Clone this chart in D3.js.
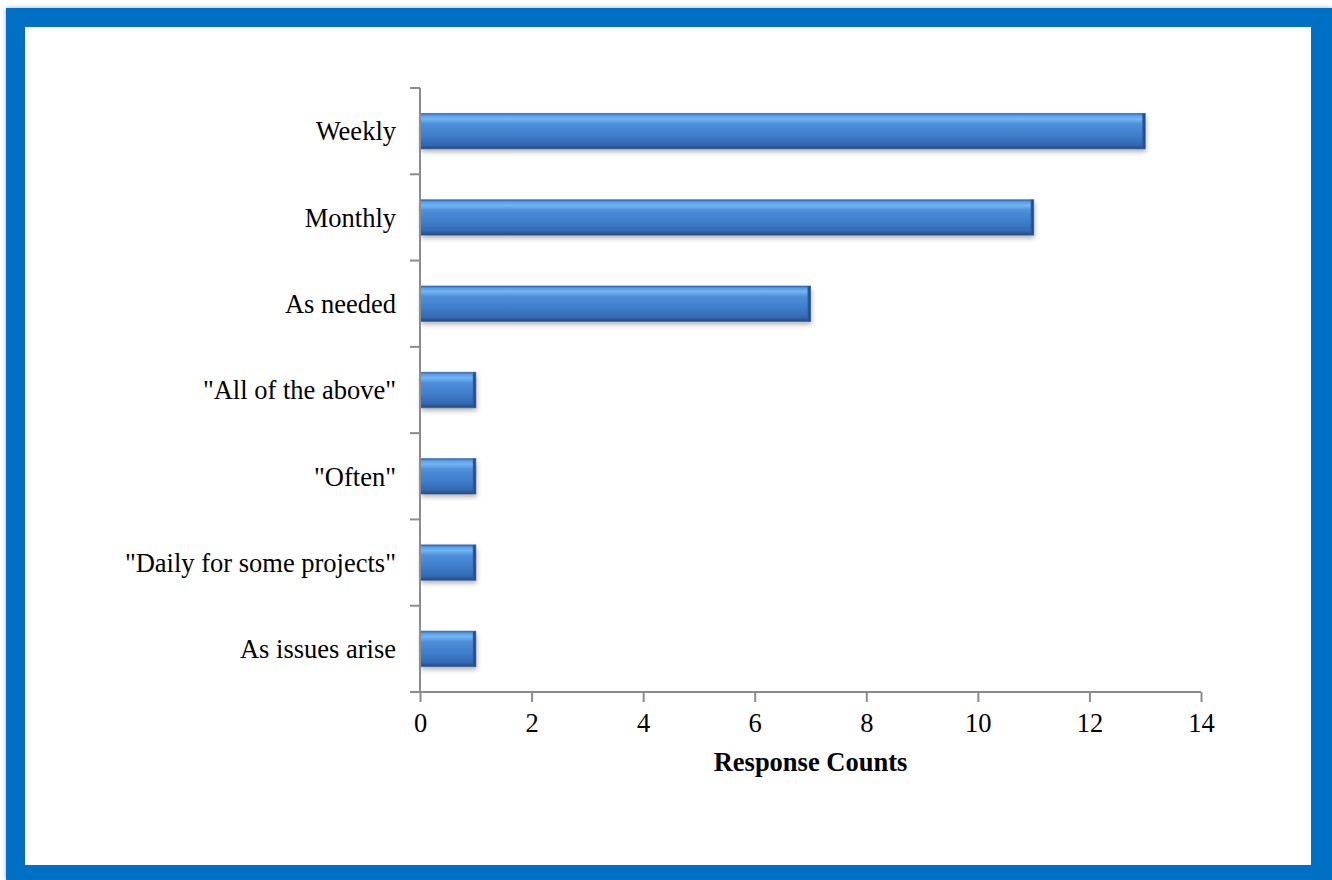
<!DOCTYPE html>
<html>
<head>
<meta charset="utf-8">
<script src="https://cdn.jsdelivr.net/npm/d3@7"></script>
<style>
  html, body { margin: 0; padding: 0; background: #ffffff; }
  svg { display: block; }
</style>
</head>
<body>
<svg id="chart" width="1332" height="880"></svg>
<script>
// Survey responses: how often feedback is given
const categories = ["Weekly", "Monthly", "As needed", "\"All of the above\"", "\"Often\"", "\"Daily for some projects\"", "As issues arise"];
const counts = [13, 11, 7, 1, 1, 1, 1];
const xTicks = [0, 2, 4, 6, 8, 10, 12, 14];
const xTitle = "Response Counts";

const svg = d3.select("#chart");
const font = "'Liberation Serif', 'Times New Roman', serif";
const fontSize = 26.5;

// Frame: blue border with soft shadow
const defs = svg.append("defs");
const shadow = defs.append("filter").attr("id", "frameShadow")
  .attr("x", "-5%").attr("y", "-5%").attr("width", "110%").attr("height", "110%");
shadow.append("feDropShadow").attr("dx", 0).attr("dy", 0).attr("stdDeviation", 2)
  .attr("flood-color", "#000").attr("flood-opacity", 0.35);

svg.append("rect").attr("x", 6).attr("y", 8).attr("width", 1326).attr("height", 872)
  .attr("fill", "#0570c4").attr("filter", "url(#frameShadow)");
svg.append("rect").attr("x", 25).attr("y", 27).attr("width", 1286).attr("height", 838)
  .attr("fill", "#ffffff");

// Bar fill gradients
const grad = defs.append("linearGradient").attr("id", "barFill")
  .attr("x1", 0).attr("y1", 0).attr("x2", 0).attr("y2", 1);
[[0, "#2f66b0"], [0.06, "#5a9ee6"], [0.16, "#72b6f4"], [0.3, "#4d8ed9"], [0.6, "#3f7fcc"], [0.88, "#3469b3"], [1, "#22497f"]]
  .forEach(([o, c]) => grad.append("stop").attr("offset", o).attr("stop-color", c));

const edge = defs.append("linearGradient").attr("id", "barEdge")
  .attr("x1", 0).attr("y1", 0).attr("x2", 1).attr("y2", 0);
[[0, "#2c5fa5"], [1, "#1a4587"]]
  .forEach(([o, c]) => edge.append("stop").attr("offset", o).attr("stop-color", c));

const barShadow = defs.append("filter").attr("id", "barShadow")
  .attr("x", "-10%").attr("y", "-20%").attr("width", "120%").attr("height", "160%");
barShadow.append("feDropShadow").attr("dx", 1).attr("dy", 3).attr("stdDeviation", 2.5)
  .attr("flood-color", "#000").attr("flood-opacity", 0.3);

// Plot area
const plot = { left: 420, right: 1201, top: 88, bottom: 692 };

const x = d3.scaleLinear().domain([0, 14]).range([plot.left, plot.right]);
const y = d3.scaleBand().domain(categories).range([plot.top, plot.bottom])
  .paddingInner(0.59).paddingOuter(0.295);
const yb = d3.scaleBand().domain(categories).range([plot.top, plot.bottom]);

const axisColor = "#8c8c8c";

// Bars
const bars = svg.append("g").selectAll("g.bar").data(categories).join("g").attr("class", "bar");
bars.append("rect")
  .attr("x", x(0))
  .attr("y", d => y(d))
  .attr("width", (d, i) => x(counts[i]) - x(0))
  .attr("height", y.bandwidth())
  .attr("fill", "url(#barFill)")
  .attr("filter", "url(#barShadow)");
// darker end cap
bars.append("rect")
  .attr("x", (d, i) => x(counts[i]) - 3)
  .attr("y", d => y(d))
  .attr("width", 3)
  .attr("height", y.bandwidth())
  .attr("fill", "url(#barEdge)");
// thin outline
bars.append("rect")
  .attr("x", x(0))
  .attr("y", d => y(d))
  .attr("width", (d, i) => x(counts[i]) - x(0))
  .attr("height", y.bandwidth())
  .attr("fill", "none")
  .attr("stroke", "#2b5c9e")
  .attr("stroke-opacity", 0.6)
  .attr("stroke-width", 1);

// Y axis: line with ticks between categories
const yAxisG = svg.append("g");
yAxisG.append("line")
  .attr("x1", plot.left).attr("x2", plot.left)
  .attr("y1", plot.top).attr("y2", plot.bottom)
  .attr("stroke", axisColor).attr("stroke-width", 2);
const bounds = categories.map(c => yb(c)).concat([plot.bottom]);
yAxisG.selectAll("line.tick").data(bounds).join("line").attr("class", "tick")
  .attr("x1", plot.left - 10).attr("x2", plot.left)
  .attr("y1", d => d).attr("y2", d => d)
  .attr("stroke", axisColor).attr("stroke-width", 2);
yAxisG.selectAll("text").data(categories).join("text")
  .attr("x", plot.left - 24)
  .attr("y", d => yb(d) + yb.bandwidth() / 2)
  .attr("dy", "0.35em")
  .attr("text-anchor", "end")
  .attr("font-family", font)
  .attr("font-size", fontSize)
  .attr("fill", "#000")
  .text(d => d);

// X axis
const xAxis = d3.axisBottom(x).tickValues(xTicks).tickSize(10).tickPadding(11)
  .tickFormat(d3.format("d"));
const xg = svg.append("g").attr("transform", `translate(0,${plot.bottom})`).call(xAxis);
xg.select(".domain").remove();
xg.append("line")
  .attr("x1", plot.left - 10).attr("x2", plot.right)
  .attr("y1", 0).attr("y2", 0)
  .attr("stroke", axisColor).attr("stroke-width", 2);
xg.selectAll(".tick line").attr("stroke", axisColor).attr("stroke-width", 2);
xg.selectAll(".tick text")
  .attr("font-family", font).attr("font-size", fontSize).attr("fill", "#000");

// X axis title
svg.append("text")
  .attr("x", (plot.left + plot.right) / 2)
  .attr("y", 771)
  .attr("text-anchor", "middle")
  .attr("font-family", font)
  .attr("font-size", fontSize)
  .attr("font-weight", "bold")
  .attr("fill", "#000")
  .text(xTitle);
</script>
</body>
</html>
